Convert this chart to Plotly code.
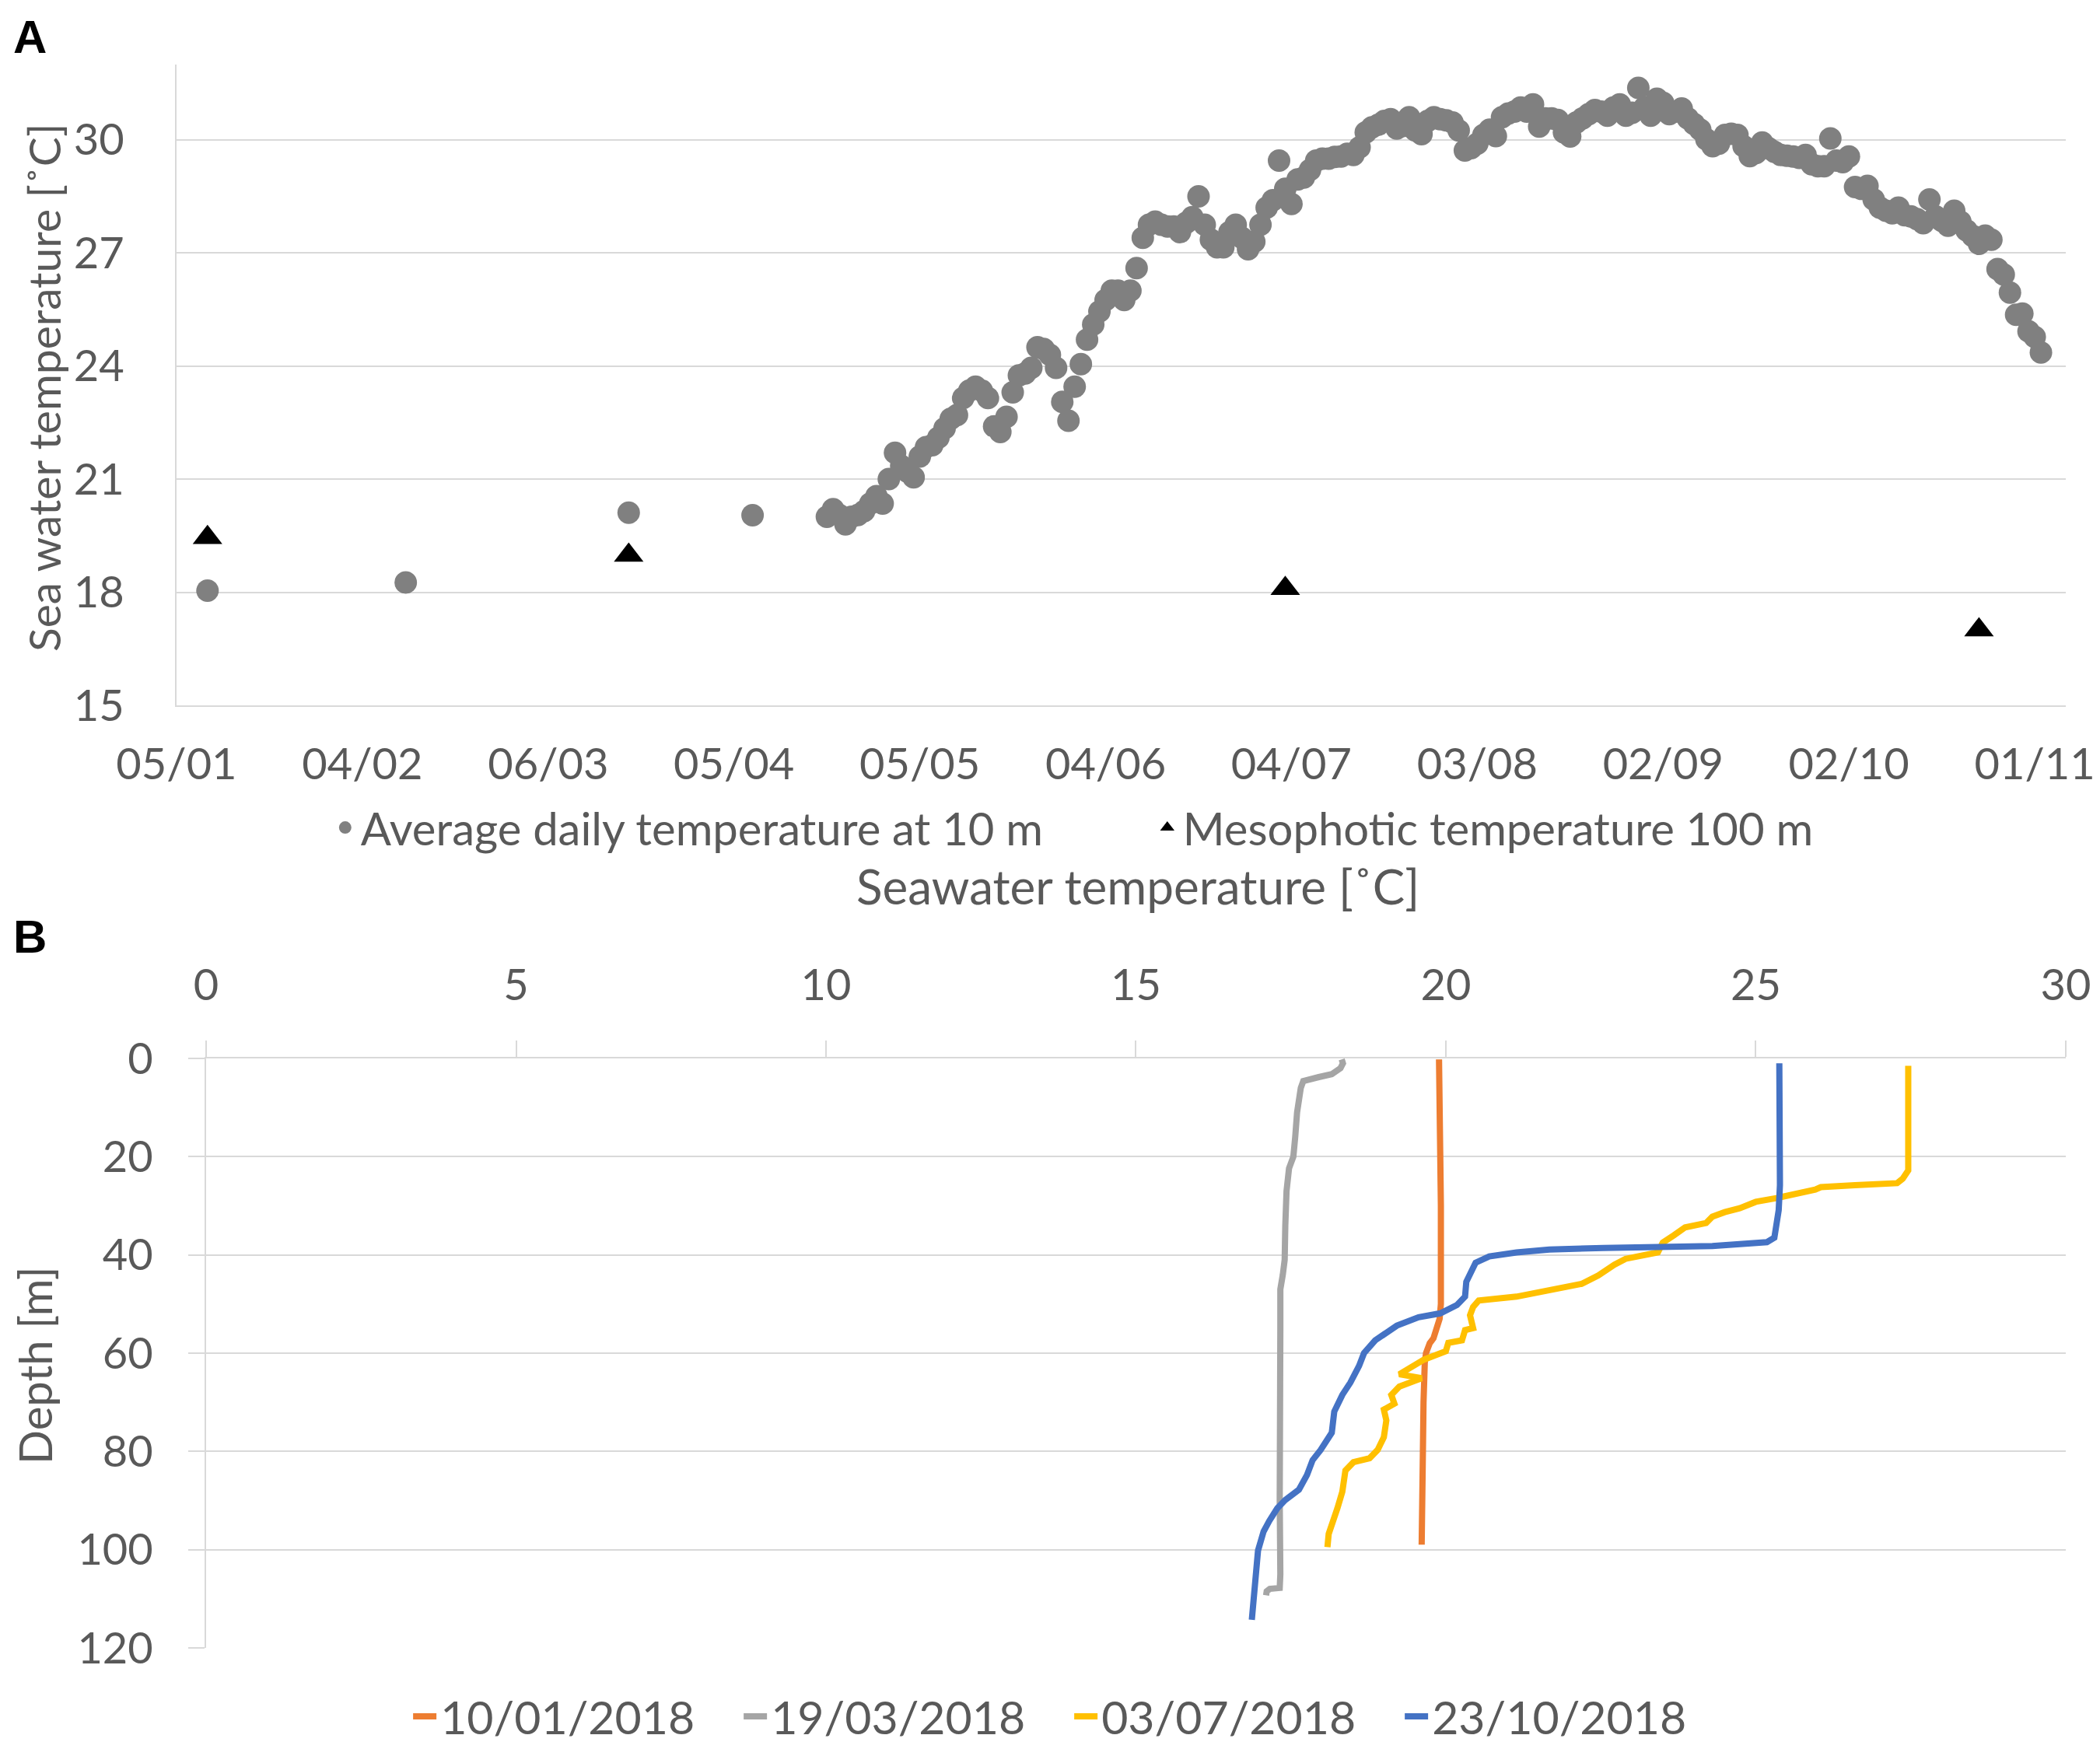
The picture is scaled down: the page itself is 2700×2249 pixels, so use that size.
import pandas as pd
import plotly.graph_objects as go

# panel A - sea water temperature at 10 m (isolated measurements + daily logger)
early_dates = ['2018-01-10', '2018-02-11', '2018-03-19', '2018-04-08']
early_temp = [18.04, 18.26, 20.11, 20.04]

logger_start = '2018-04-20'
logger_temp = [
    20.0, 20.2, 20.05, 19.8, 20.0, 20.05, 20.15, 20.35, 20.55, 20.35,
    21.0, 21.7, 21.35, 21.2, 21.05, 21.6, 21.85, 21.9, 22.1, 22.35,
    22.6, 22.7, 23.15, 23.35, 23.45, 23.35, 23.15, 22.4, 22.25, 22.65,
    23.3, 23.75, 23.8, 23.95, 24.5, 24.45, 24.3, 23.95, 23.05, 22.55,
    23.45, 24.05, 24.7, 25.1, 25.45, 25.75, 26.0, 26.0, 25.75, 26.0,
    26.6, 27.4, 27.75, 27.83, 27.75, 27.7, 27.7, 27.55, 27.8, 27.95,
    28.5, 27.75, 27.35, 27.15, 27.15, 27.55, 27.75, 27.4, 27.1, 27.3,
    27.75, 28.2, 28.4, 29.45, 28.7, 28.3, 28.95, 29.0, 29.2, 29.45,
    29.5, 29.5, 29.55, 29.56, 29.63, 29.6, 29.8, 30.2, 30.33, 30.4,
    30.5, 30.55, 30.3, 30.37, 30.6, 30.25, 30.15, 30.5, 30.6, 30.55,
    30.52, 30.46, 30.25, 29.72, 29.78, 29.9, 30.13, 30.27, 30.1, 30.6,
    30.7, 30.75, 30.86, 30.75, 30.94, 30.35, 30.57, 30.57, 30.53, 30.2,
    30.09, 30.46, 30.57, 30.68, 30.79, 30.75, 30.64, 30.86, 30.94, 30.64,
    30.72, 31.38, 30.86, 30.64, 31.09, 30.98, 30.68, 30.75, 30.83, 30.57,
    30.42, 30.27, 30.01, 29.83, 29.9, 30.13, 30.16, 30.13, 29.83, 29.57,
    29.65, 29.93, 29.78, 29.68, 29.6, 29.58, 29.56, 29.52, 29.6, 29.35,
    29.3, 29.3, 30.04, 29.45, 29.41, 29.56, 28.75, 28.7, 28.78, 28.42,
    28.2, 28.12, 28.05, 28.2, 28.0, 27.97, 27.9, 27.79, 28.42, 27.97,
    27.85, 27.72, 28.12, 27.83, 27.6, 27.45, 27.24, 27.46, 27.35, 26.57,
    26.43, 25.95, 25.36, 25.39, 24.92, 24.77, 24.36,
]

meso_dates = ['2018-01-10', '2018-03-19', '2018-07-03', '2018-10-23']
meso_temp = [19.45, 18.98, 18.1, 17.0]

# panel B - depth profiles (temperature, depth)
jan_temp = [19.89, 19.9, 19.9, 19.91, 19.92, 19.93, 19.93, 19.92, 19.9, 19.86,
            19.8, 19.74, 19.68, 19.66, 19.65, 19.64, 19.63, 19.62, 19.61]
jan_depth = [0.2, 5, 10, 20, 30, 40, 45, 50, 53, 55,
             57, 58, 60, 62, 65, 70, 80, 90, 99]

mar_temp = [18.32, 18.34, 18.3, 18.16, 17.95, 17.7, 17.66, 17.63, 17.6, 17.57,
            17.54, 17.47, 17.43, 17.41, 17.4, 17.37, 17.33, 17.33, 17.32, 17.32,
            17.33, 17.32, 17.16, 17.11, 17.1]
mar_depth = [0.2, 1, 2, 3.2, 3.8, 4.6, 6, 8, 11, 16,
             20, 22.4, 27, 34, 41, 44, 47, 55, 70, 90,
             105, 107.8, 108, 108.5, 109.3]

jul_temp = [27.46, 27.46, 27.46, 27.37, 27.28, 26.6, 26.05, 25.96, 25.7, 25.35,
            25.0, 24.74, 24.5, 24.3, 24.2, 23.86, 23.68, 23.5, 23.42, 22.9,
            22.72, 22.46, 22.19, 21.67, 21.14, 20.53, 20.44, 20.39, 20.44, 20.31,
            20.26, 20.04, 20.0, 19.65, 19.47, 19.25, 19.61, 19.25, 19.12, 19.17,
            19.0, 19.04, 19.0, 18.9, 18.77, 18.51, 18.38, 18.33, 18.25, 18.16,
            18.11, 18.09]
jul_depth = [1.5, 10, 22.8, 24.5, 25.4, 25.8, 26.2, 26.7, 27.5, 28.4,
             29.2, 30.5, 31.3, 32.2, 33.5, 34.4, 36, 37.5, 39.5, 40.8,
             42, 44.2, 45.9, 47.2, 48.5, 49.3, 50.6, 52.3, 54.9, 55.3,
             57.4, 57.9, 59.6, 61.3, 62.6, 64.3, 65.1, 66.8, 68.5, 70.3,
             71.5, 73.7, 77.1, 79.7, 81.4, 82.2, 83.9, 88.2, 91.6, 95,
             96.8, 99.5]

oct_temp = [25.38, 25.39, 25.39, 25.37, 25.33, 25.3, 25.18, 24.3, 22.54, 21.67,
            21.14, 20.7, 20.48, 20.39, 20.33, 20.31, 20.18, 19.91, 19.56, 19.21,
            19.04, 18.86, 18.68, 18.6, 18.46, 18.33, 18.2, 18.16, 17.98, 17.85,
            17.76, 17.63, 17.41, 17.28, 17.15, 17.06, 16.97, 16.93, 16.89, 16.87]
oct_depth = [1.0, 10, 25.8, 30.9, 34.4, 36.5, 37.4, 38.2, 38.6, 38.9,
             39.5, 40.3, 41.6, 43.8, 45.5, 48.5, 50.2, 51.9, 52.7, 54.4,
             55.7, 57.4, 60, 62.6, 66, 68.5, 71.9, 76.2, 79.7, 81.8,
             84.8, 87.8, 89.9, 91.6, 94.2, 96.3, 100.2, 105.3, 113, 114.3]

profiles = [
    ('10/01/2018', jan_temp, jan_depth, '#ED7D31'),
    ('19/03/2018', mar_temp, mar_depth, '#A5A5A5'),
    ('03/07/2018', jul_temp, jul_depth, '#FFC000'),
    ('23/10/2018', oct_temp, oct_depth, '#4472C4'),
]

FONT = 'Lato'
GREY_TXT = '#595959'
GRID = '#D9D9D9'
W, H = 2700, 2249

logger_dates = pd.date_range(logger_start, periods=len(logger_temp), freq='D')
shallow_x = list(pd.to_datetime(early_dates)) + list(logger_dates)
shallow_y = early_temp + logger_temp

fig = go.Figure()

fig.add_trace(go.Scatter(x=shallow_x, y=shallow_y, mode='markers',
                         name='Average daily temperature at 10 m',
                         marker=dict(color='#808080', size=29, line=dict(width=0)),
                         xaxis='x', yaxis='y', legend='legend'))
fig.add_trace(go.Scatter(x=pd.to_datetime(meso_dates), y=meso_temp, mode='markers',
                         name='Mesophotic temperature 100 m',
                         marker=dict(color='black', size=33, symbol='triangle-up', line=dict(width=0)),
                         xaxis='x', yaxis='y', legend='legend'))

for name, t, d, col in profiles:
    fig.add_trace(go.Scatter(x=t, y=d, mode='lines', name=name,
                             line=dict(color=col, width=8),
                             xaxis='x2', yaxis='y2', legend='legend2'))

fig.update_layout(
    width=W, height=H, autosize=False,
    margin=dict(l=0, r=0, t=0, b=0, autoexpand=False),
    paper_bgcolor='white', plot_bgcolor='white',
    font=dict(family=FONT, color=GREY_TXT, size=52),
    xaxis=dict(domain=[0.0811, 0.9807], type='date', automargin=False,
               range=['2018-01-05', '2018-11-06'],
               tick0='2018-01-05', dtick=30 * 86400000, tickformat='%d/%m',
               showgrid=False, showline=True, linecolor=GRID, linewidth=2,
               ticks='', ticklabelstandoff=26,
               tickfont=dict(size=56, color=GREY_TXT), anchor='y'),
    yaxis=dict(domain=[0.6003, 0.9667], range=[15, 32], dtick=3, tick0=15,
               automargin=False,
               showgrid=True, gridcolor=GRID, gridwidth=2,
               showline=True, linecolor=GRID, linewidth=2, zeroline=False,
               ticks='', ticklabelstandoff=54,
               tickfont=dict(size=56, color=GREY_TXT), anchor='x'),
    xaxis2=dict(domain=[0.0952, 0.9807], range=[0, 30], dtick=5, side='top',
                automargin=False,
                showgrid=False, showline=True, linecolor=GRID, linewidth=2,
                zeroline=False, ticks='outside', ticklen=21, tickwidth=2,
                tickcolor=GRID, ticklabelstandoff=30,
                tickfont=dict(size=56, color=GREY_TXT), anchor='y2'),
    yaxis2=dict(domain=[0.0614, 0.3984], range=[120, 0], dtick=20,
                automargin=False,
                showgrid=True, gridcolor=GRID, gridwidth=2,
                showline=True, linecolor=GRID, linewidth=2, zeroline=False,
                ticks='outside', ticklen=21, tickwidth=2, tickcolor=GRID,
                ticklabelstandoff=34,
                tickfont=dict(size=56, color=GREY_TXT), anchor='x2'),
    legend=dict(orientation='h', x=0.154, xanchor='left', y=0.5303, yanchor='middle',
                font=dict(family=FONT, size=58, color=GREY_TXT),
                bgcolor='rgba(0,0,0,0)', itemsizing='trace', entrywidth=1012),
    legend2=dict(orientation='h', x=0.1919, xanchor='left', y=0.0222, yanchor='middle',
                 font=dict(family=FONT, size=59, color=GREY_TXT),
                 bgcolor='rgba(0,0,0,0)', entrywidth=380),
    showlegend=True,
)

# panel letters and axis titles
labels = [
    ('<b>A</b>', 30, 40, 0, 'Liberation Sans', 60, 'black'),
    ('<b>B</b>', 30, 1196, 0, 'Liberation Sans', 60, 'black'),
    ('Sea water temperature [˚C]', 48, 491, -90, FONT, 57, GREY_TXT),
    ('Seawater temperature [˚C]', 1455, 1131, 0, FONT, 62, GREY_TXT),
    ('Depth [m]', 36, 1748, -90, FONT, 58, GREY_TXT),
]
for txt, px, py, ang, fam, sz, col in labels:
    fig.add_annotation(text=txt, x=px / W, y=1 - py / H, xref='paper', yref='paper',
                       xanchor='center', yanchor='middle', showarrow=False,
                       textangle=ang, font=dict(family=fam, size=sz, color=col))

fig.write_html('out.html')
